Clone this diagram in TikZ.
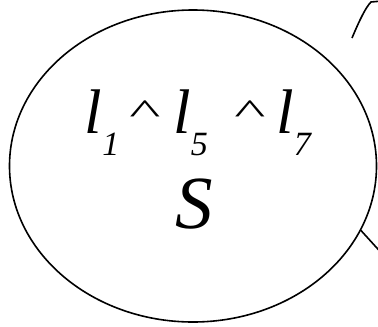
\documentclass[tikz,border=0pt]{standalone}
\usepackage{fontspec}
\setmainfont{Liberation Serif}
\usetikzlibrary{shapes.geometric}
\newcommand{\lit}[1]{\textit{l}\raisebox{-22pt}{\fontsize{34}{34}\selectfont\textit{#1}}}
\newcommand{\wedgehat}{\raisebox{10pt}{\scalebox{1.05}[0.55]{\textasciicircum}}}
\begin{document}
\begin{tikzpicture}[x=1pt,y=-1pt,line width=1.6pt,
    bubble/.style={draw,ellipse,minimum width=367pt,minimum height=312pt,inner sep=0pt},
    label/.style={inner sep=0pt}]
    \useasboundingbox (0,0) rectangle (378,327);
    \node[bubble] (S) at (193,166) {};
    \node[label,anchor=base west,font=\fontsize{63}{63}\selectfont] (lits) at (84,133)
        {\lit{1}\hspace{10pt}\wedgehat\hspace{13pt}\lit{5}\hspace{26.5pt}\wedgehat\hspace{11pt}\lit{7}};
    \node[label,anchor=base,font=\fontsize{75}{75}\selectfont\itshape] (set) at (194,228) {S};
    % edges leaving the picture on the right
    \coordinate (out) at (386,258);
    \draw (S.-21.6) -- (out);
    \coordinate (up1) at (352,38);
    \coordinate (up2) at (382,1);
    \draw (up1) .. controls (360,19) and (366,7) .. (371,2) -- (up2);
\end{tikzpicture}
\end{document}
